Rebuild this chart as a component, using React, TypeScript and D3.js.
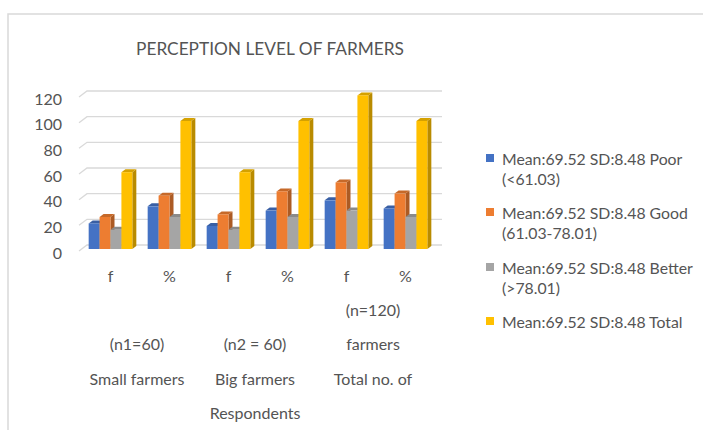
import * as d3 from "d3"

const title = "PERCEPTION LEVEL OF FARMERS"
const categories = ["f", "%", "f", "%", "f", "%"]
const groupLabels = [
  ["(n1=60)", "Small farmers"],
  ["(n2 = 60)", "Big farmers", "Respondents"],
  ["(n=120)", "farmers", "Total no. of"],
]
const groupRowStart = [1, 1, 0]
const seriesNames = [
  ["Mean:69.52 SD:8.48 Poor", "(<61.03)"],
  ["Mean:69.52 SD:8.48 Good", "(61.03-78.01)"],
  ["Mean:69.52 SD:8.48 Better", "(>78.01)"],
  ["Mean:69.52 SD:8.48 Total"],
]
const poor = [20, 33.33, 18, 30, 38, 31.67]
const good = [25, 41.67, 27, 45, 52, 43.33]
const better = [15, 25, 15, 25, 30, 25]
const total = [60, 100, 60, 100, 120, 100]
const yTicks = [0, 20, 40, 60, 80, 100, 120]

const colors = ["#4472C4", "#ED7D31", "#A5A5A5", "#FFC000"]
const FONT = "Lato, 'Open Sans', sans-serif"
const TXT = "#545454"

export default function App() {
  const series = [poor, good, better, total]
  const x = d3.scaleBand<number>().domain(d3.range(categories.length)).range([81, 435])
    .paddingInner(0.26).paddingOuter(0.13)
  const xs = d3.scaleBand<number>().domain(d3.range(series.length)).range([0, x.bandwidth()])
  const yBar = d3.scaleLinear().domain([0, 120]).range([249, 95.4])
  const yGrid = d3.scaleLinear().domain([0, 120]).range([245, 91])
  const dx = 4, dy = 3
  const step = x.step()
  const rowY = [309, 343, 378, 412]
  const legendY = [158, 212, 267, 321]

  return (
    <div style={{ position: "absolute", left: 0, top: 0 }}>
      <svg width={703} height={430} style={{ display: "block", fontFamily: FONT }}>
        <rect width={703} height={430} fill="#fff" />
        <path d="M8,430V14H703" fill="none" stroke="#D9D9D9" strokeWidth={1.5} />
        <text x={270} y={48} textAnchor="middle" dominantBaseline="central" fontSize={17.3} fill={TXT}>
          {title}
        </text>

        {yTicks.map(t => (
          <g key={t}>
            <path d={`M79,${yGrid(t) + 6}L87,${yGrid(t)}H442`} fill="none" stroke="#D9D9D9" strokeWidth={1.3} />
            <text x={62} y={yGrid(t) + 7} textAnchor="end" dominantBaseline="central" fontSize={16} fill={TXT}>
              {t}
            </text>
          </g>
        ))}

        {categories.map((c, i) => (
          <g key={i}>
            {series.map((s, k) => {
              const x0 = x(i)! + xs(k)!
              const w = xs.bandwidth()
              const y0 = yBar(s[i])
              const yb = yBar(0)
              const col = d3.color(colors[k])!
              return (
                <g key={k}>
                  <path d={`M${x0 + w},${y0}l${dx},${-dy}V${yb - dy}l${-dx},${dy}Z`} fill={col.darker(0.9).toString()} />
                  <path d={`M${x0},${y0}l${dx},${-dy}h${w}l${-dx},${dy}Z`} fill={col.darker(0.5).toString()} />
                  <rect x={x0} y={y0} width={w} height={yb - y0} fill={colors[k]} />
                </g>
              )
            })}
            <text x={x(i)! + x.bandwidth() / 2} y={275} textAnchor="middle" dominantBaseline="central" fontSize={16} fill={TXT}>
              {c}
            </text>
          </g>
        ))}

        {groupLabels.map((lines, g) => {
          const cx = 81 + step * (2 * g + 1) - 3
          return lines.map((l, j) => (
            <text key={`${g}-${j}`} x={cx} y={rowY[groupRowStart[g] + j]} textAnchor="middle" dominantBaseline="central" fontSize={16} fill={TXT}>
              {l}
            </text>
          ))
        })}

        {seriesNames.map((lines, k) => (
          <g key={k}>
            <rect x={486} y={legendY[k] - 4} width={8} height={8} fill={colors[k]} />
            {lines.map((l, j) => (
              <text key={j} x={502} y={legendY[k] + j * 20} dominantBaseline="central" fontSize={15.8} fill={TXT}>
                {l}
              </text>
            ))}
          </g>
        ))}
      </svg>
    </div>
  )
}
